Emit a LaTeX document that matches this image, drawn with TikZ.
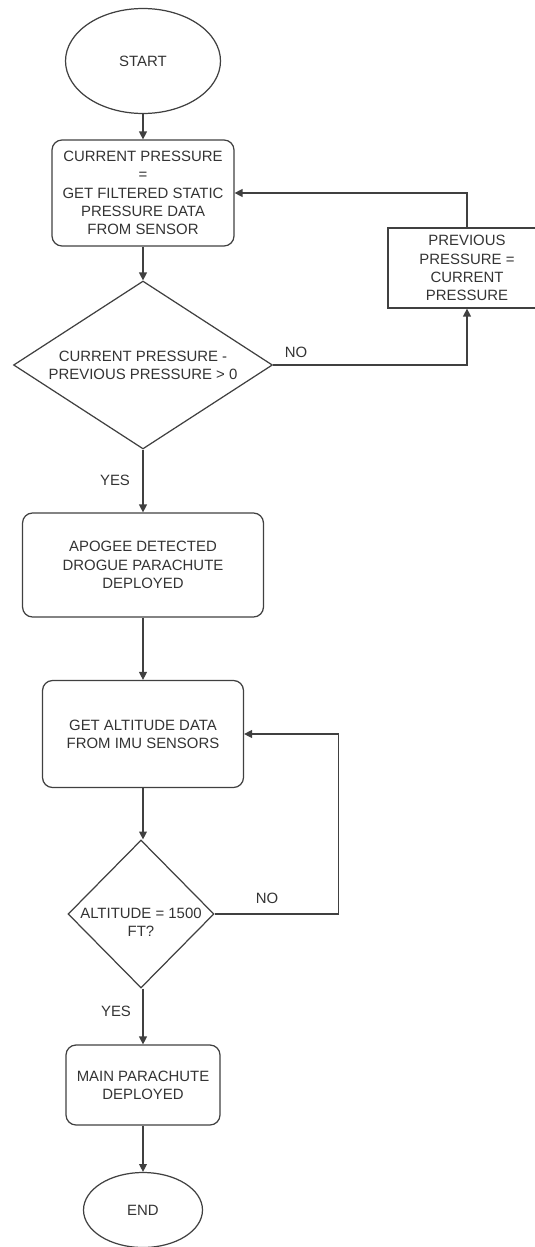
\documentclass[tikz,border=0pt]{standalone}
\usepackage{fontspec}
\setsansfont{Liberation Sans}
\usetikzlibrary{shapes.geometric,arrows.meta}
\begin{document}
\begin{tikzpicture}[x=0.02cm, y=-0.02cm, font=\sffamily\fontsize{8.5}{10.4}\selectfont,
    line width=0.7pt, draw=black!75, text=black!80,
    term/.style={ellipse, draw=black!75, inner sep=1pt},
    proc/.style={rectangle, rounded corners=0.2cm, draw=black!75, align=center, inner sep=2pt},
    plain/.style={rectangle, draw=black!75, align=center, inner sep=2pt},
    test/.style={diamond, draw=black!75, align=center, inner sep=0pt, aspect=1.5},
    arr/.style={draw=black!75, -{Triangle[length=4.5pt,width=4.5pt]}}]
    \useasboundingbox (0,0) rectangle (534,1247);
    \node[term, minimum width=3.1cm, minimum height=2.1cm] (start) at (143,61) {START};
    \node[proc, minimum width=3.64cm, minimum height=2.12cm] (cur) at (143,193)
        {CURRENT PRESSURE\\=\\GET FILTERED STATIC\\PRESSURE DATA\\FROM SENSOR};
    \node[test, minimum width=5.18cm, minimum height=3.36cm] (check) at (143,365)
        {CURRENT PRESSURE -\\PREVIOUS PRESSURE > 0};
    \node[plain, minimum width=3.16cm, minimum height=1.6cm] (prev) at (467,268)
        {PREVIOUS\\PRESSURE =\\CURRENT\\PRESSURE};
    \node[proc, minimum width=4.82cm, minimum height=2.08cm] (apogee) at (143,565)
        {APOGEE DETECTED\\DROGUE PARACHUTE\\DEPLOYED};
    \node[proc, minimum width=4.02cm, minimum height=2.14cm] (alt) at (143,734)
        {GET ALTITUDE DATA\\FROM IMU SENSORS};
    \node[test, minimum width=2.92cm, minimum height=2.96cm,
        label={[align=center, yshift=-0.16cm]center:ALTITUDE = 1500\\FT?}] (altchk) at (141,914) {};
    \node[proc, minimum width=3.08cm, minimum height=1.6cm] (main) at (143,1085)
        {MAIN PARACHUTE\\DEPLOYED};
    \node[term, minimum width=2.38cm, minimum height=1.5cm] (end) at (143,1210) {END};
    \node (no1) at (296,352) {NO};
    \node (yes1) at (115,480) {YES};
    \node (no2) at (267,898) {NO};
    \node (yes2) at (116,1011) {YES};
    \foreach \a/\b in {start/cur, cur/check, check/apogee, apogee/alt, main/end}
        \draw[arr] (\a) -- (\b);
    \draw[arr] (alt.south) -- (alt.south |- altchk.north);
    \draw[arr] (altchk.south -| main.north) -- (main.north);
    \draw[arr] (check.east) -| (prev.south);
    \draw[arr] (prev.north) |- (cur.east);
    \draw[arr] (altchk.east) -- ++(124,0) |- (alt.east);
\end{tikzpicture}
\end{document}
